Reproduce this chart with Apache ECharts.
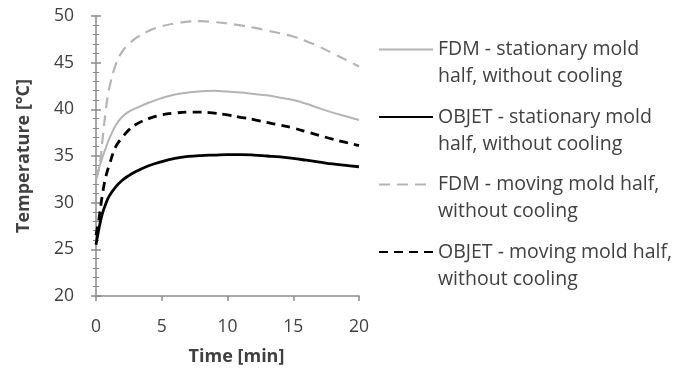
<!DOCTYPE html>
<html>
<head>
<meta charset="utf-8">
<script src="https://cdn.jsdelivr.net/npm/echarts@6/dist/echarts.min.js"></script>
<style>html,body{margin:0;padding:0;background:#fff}#c{width:680px;height:372px}</style>
</head>
<body>
<div id="c"></div>
<script>
const time = [0,0.25,0.5,0.75,1,1.5,2,2.5,3,4,5,6,7,8,9,10,11,12,13,14,15,16,17,18,19,20];
const fdmStationary = [32.5,33.8,34.9,35.9,36.8,38.3,39.2,39.75,40.1,40.7,41.2,41.6,41.8,41.95,42.0,41.9,41.8,41.65,41.5,41.25,41.0,40.6,40.1,39.65,39.25,38.85];
const objetStationary = [25.5,27.4,28.9,29.9,30.7,31.7,32.4,32.9,33.3,33.95,34.4,34.75,34.95,35.05,35.1,35.15,35.15,35.1,35.0,34.9,34.75,34.55,34.35,34.15,34.0,33.85];
const fdmMoving = [32.5,33.8,36.8,40.0,42.2,44.8,46.2,47.0,47.6,48.4,48.9,49.2,49.4,49.45,49.35,49.2,49.0,48.75,48.45,48.15,47.8,47.3,46.7,46.0,45.3,44.6];
const objetMoving = [26.5,28.5,31.0,32.8,34.0,36.0,37.0,37.8,38.35,39.0,39.4,39.6,39.7,39.7,39.6,39.4,39.15,38.9,38.6,38.3,38.0,37.6,37.2,36.8,36.45,36.1];
const seriesNames = [
  'FDM - stationary mold\nhalf, without cooling',
  'OBJET - stationary mold\nhalf, without cooling',
  'FDM - moving mold half,\nwithout cooling',
  'OBJET - moving mold half,\nwithout cooling'
];
const xTitle = 'Time [min]';
const yTitle = 'Temperature [°C]';

const pairs = arr => time.map((t, i) => [t, arr[i]]);
const FONT = 'Open Sans';
const TXT = '#404040';
const AX = '#8a8a8a';

const chart = echarts.init(document.getElementById('c'), null, {renderer: 'canvas'});
const mk = (name, arr, color, width, type) => ({
  name, type: 'line', data: pairs(arr), smooth: 0.4,
  symbol: 'none', yAxisIndex: 0,
  lineStyle: {color, width, type}, itemStyle: {color}
});
chart.setOption({
  animation: false,
  textStyle: {fontFamily: FONT},
  grid: {left: 96, top: 16, right: 321, bottom: 76},
  legend: {
    orient: 'vertical', left: 373, top: 4, itemWidth: 54, itemHeight: 2, itemGap: -13.5,
    selectedMode: false,
    itemStyle: {opacity: 0},
    formatter: name => '\n' + name,
    textStyle: {fontFamily: FONT, fontSize: 19.5, color: TXT, lineHeight: 27},
    data: seriesNames
  },
  xAxis: {
    type: 'value', min: 0, max: 20, interval: 5,
    name: xTitle, nameLocation: 'middle', nameGap: 52,
    nameTextStyle: {fontFamily: FONT, fontSize: 18, fontWeight: 'bold', color: TXT, padding: [0, 0, 0, 18]},
    axisLine: {show: true, lineStyle: {color: AX, width: 1.5}},
    axisTick: {show: true, inside: false, length: 5, lineStyle: {color: AX, width: 1.5}},
    axisLabel: {fontFamily: FONT, fontSize: 17.5, color: TXT, margin: 22},
    splitLine: {show: false}
  },
  yAxis: [{
    type: 'value', min: 20, max: 50, interval: 5, position: 'left',
    name: yTitle, nameLocation: 'middle', nameGap: 63,
    nameTextStyle: {fontFamily: FONT, fontSize: 18, fontWeight: 'bold', color: TXT},
    axisLine: {show: true, lineStyle: {color: AX, width: 1.5}},
    axisTick: {show: true, inside: false, length: 5, lineStyle: {color: AX, width: 1.5}},
    minorTick: {show: true, splitNumber: 5, length: 3, lineStyle: {color: AX, width: 1}},
    axisLabel: {fontFamily: FONT, fontSize: 17.5, color: TXT, margin: 22},
    splitLine: {show: false}
  }, {
    type: 'value', min: 20, max: 50, interval: 5, position: 'left',
    axisLine: {show: false},
    axisTick: {show: true, inside: true, length: 5, lineStyle: {color: AX, width: 1.5}},
    minorTick: {show: true, splitNumber: 5, length: 3, lineStyle: {color: AX, width: 1}},
    axisLabel: {show: false},
    splitLine: {show: false}
  }],
  series: [
    mk(seriesNames[0], fdmStationary, '#b4b4b4', 2, 'solid'),
    mk(seriesNames[1], objetStationary, '#000000', 2.8, 'solid'),
    mk(seriesNames[2], fdmMoving, '#b4b4b4', 2.2, [11, 7]),
    mk(seriesNames[3], objetMoving, '#000000', 2.8, [9, 6])
  ]
});
</script>
</body>
</html>
